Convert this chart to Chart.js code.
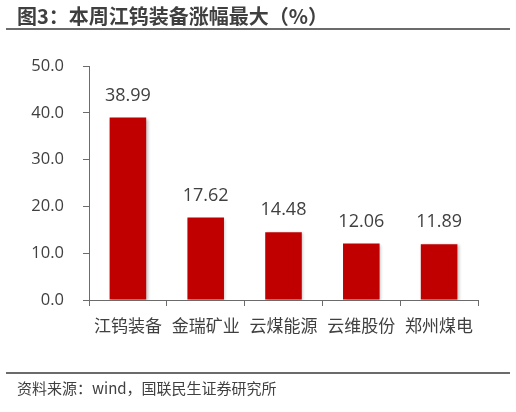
<!DOCTYPE html>
<html>
<head>
<meta charset="utf-8">
<script src="https://cdn.jsdelivr.net/npm/chart.js@4"></script>
<style>
  html, body { margin: 0; padding: 0; background: #fff; }
  #wrap { position: relative; width: 516px; height: 412px; overflow: hidden; }
  #chart { position: absolute; left: 0; top: 0; }
  .title {
    position: absolute; left: 17px; top: 1px;
    font: bold 20px 'Noto Sans CJK SC', sans-serif; color: #3f3f3f; white-space: nowrap;
  }
  .rule { position: absolute; left: 6px; width: 504px; height: 2px; background: #6b6b6b; }
  .source {
    position: absolute; left: 17px; top: 377px;
    font: 15px 'Noto Sans CJK SC', sans-serif; color: #404040; white-space: nowrap;
  }
</style>
</head>
<body>
<div id="wrap">
  <canvas id="chart" width="516" height="412"></canvas>
  <div class="title">图3：本周江钨装备涨幅最大（%）</div>
  <div class="rule" style="top:28px"></div>
  <div class="rule" style="top:372px"></div>
  <div class="source">资料来源：wind，国联民生证券研究所</div>
</div>
<script>
// ─── Data ───────────────────────────────────────────────────────────────────

const companies = ['江钨装备', '金瑞矿业', '云煤能源', '云维股份', '郑州煤电'];
const weeklyGain = [38.99, 17.62, 14.48, 12.06, 11.89];
const yTicks = [0, 10, 20, 30, 40, 50];

const BAR_RED = '#c00000';
const AXIS_GRAY = '#6b6b6b';
const TEXT_GRAY = '#404040';
const FONT = "'Open Sans', 'Noto Sans CJK SC', sans-serif";

// ─── Value labels above bars ────────────────────────────────────────────────

const valueLabels = {
  id: 'valueLabels',
  afterDatasetsDraw(chart) {
    const ctx = chart.ctx;
    const meta = chart.getDatasetMeta(0);
    ctx.save();
    ctx.font = `18px ${FONT}`;
    ctx.fillStyle = TEXT_GRAY;
    ctx.textAlign = 'center';
    ctx.textBaseline = 'middle';
    meta.data.forEach((bar, i) => {
      ctx.fillText(weeklyGain[i].toFixed(2), bar.x, bar.y - 22);
    });
    ctx.restore();
  }
};

// soft shadow on the bars, like the source figure
const barShadow = {
  id: 'barShadow',
  beforeDatasetDraw(chart) {
    const ctx = chart.ctx;
    ctx.save();
    ctx.shadowColor = 'rgba(0,0,0,0.25)';
    ctx.shadowBlur = 3;
    ctx.shadowOffsetX = 1.5;
    ctx.shadowOffsetY = 1;
  },
  afterDatasetDraw(chart) {
    chart.ctx.restore();
  }
};

new Chart(document.getElementById('chart'), {
  type: 'bar',
  data: {
    labels: companies,
    datasets: [{
      data: weeklyGain,
      backgroundColor: BAR_RED,
      borderWidth: 0,
      categoryPercentage: 1,
      barPercentage: 0.47
    }]
  },
  plugins: [barShadow, valueLabels],
  options: {
    responsive: false,
    animation: false,
    events: [],
    layout: { padding: { left: 0, right: 38, top: 66, bottom: 0 } },
    plugins: { legend: { display: false }, tooltip: { enabled: false } },
    scales: {
      x: {
        offset: true,
        afterFit: (s) => { s.height = 112; },
        grid: { offset: true, drawOnChartArea: false, tickLength: 6, color: AXIS_GRAY },
        border: { color: AXIS_GRAY, width: 1 },
        ticks: {
          color: TEXT_GRAY,
          font: { family: FONT, size: 17 },
          padding: 11,
          maxRotation: 0,
          autoSkip: false
        }
      },
      y: {
        min: yTicks[0],
        max: yTicks[yTicks.length - 1],
        afterFit: (s) => { s.width = 89; },
        afterBuildTicks: (s) => { s.ticks = yTicks.map(v => ({ value: v })); },
        grid: { drawOnChartArea: false, tickLength: 6, color: AXIS_GRAY },
        border: { color: AXIS_GRAY, width: 1 },
        ticks: {
          color: TEXT_GRAY,
          font: { family: FONT, size: 16.5 },
          padding: 19,
          callback: (v) => Number(v).toFixed(1)
        }
      }
    }
  }
});
</script>
</body>
</html>
